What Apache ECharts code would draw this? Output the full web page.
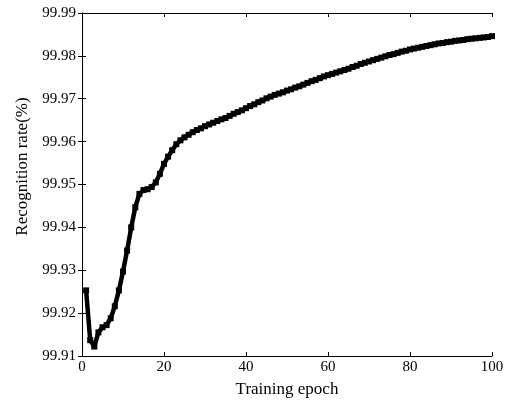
<!DOCTYPE html>
<html>
<head>
<meta charset="utf-8">
<script src="https://cdn.jsdelivr.net/npm/echarts@6/dist/echarts.min.js"></script>
<style>
  html, body { margin: 0; padding: 0; background: #fff; }
  #chart { width: 512px; height: 403px; }
</style>
</head>
<body>
<div id="chart"></div>
<script>
// epochs 1..100 and recognition rate
var epochs = [];
for (var i = 1; i <= 100; i++) epochs.push(i);

var rate = [
  99.9253, 99.9137, 99.9122, 99.9155, 99.9167, 99.9172, 99.9188, 99.9216, 99.9253, 99.9297,
  99.9346, 99.9400, 99.9447, 99.9478, 99.9487, 99.9489, 99.9494, 99.9505, 99.9525, 99.9548,
  99.9565, 99.9580, 99.9594, 99.9603, 99.9610, 99.9616, 99.9622, 99.9627, 99.9631, 99.9636,
  99.9640, 99.9644, 99.9648, 99.9652, 99.9655, 99.9660, 99.9665, 99.9669, 99.9673, 99.9678,
  99.9683, 99.9687, 99.9692, 99.9696, 99.9701, 99.9705, 99.9709, 99.9712, 99.9715, 99.9719,
  99.9722, 99.9726, 99.9729, 99.9733, 99.9737, 99.9741, 99.9744, 99.9748, 99.9752, 99.9755,
  99.9758, 99.9761, 99.9764, 99.9767, 99.9770, 99.9774, 99.9777, 99.9781, 99.9784, 99.9787,
  99.9790, 99.9793, 99.9796, 99.9799, 99.9802, 99.9804, 99.9807, 99.9810, 99.9812, 99.9815,
  99.9817, 99.9819, 99.9821, 99.9823, 99.9825, 99.9827, 99.9829, 99.9830, 99.9832, 99.9833,
  99.9835, 99.9836, 99.9837, 99.9839, 99.9840, 99.9841, 99.9842, 99.9843, 99.9844, 99.9846
];

var xTitle = 'Training epoch';
var yTitle = 'Recognition rate(%)';

var font = 'Liberation Serif, Times New Roman, serif';
var chart = echarts.init(document.getElementById('chart'));

var axisLine = { show: true, lineStyle: { color: '#000', width: 1 } };
var tick = { show: true, inside: true, length: 4, lineStyle: { color: '#000' } };

var points = epochs.map(function (e, i) { return [e, rate[i]]; });

chart.setOption({
  animation: false,
  backgroundColor: '#fff',
  grid: { left: 82, right: 20, top: 13, bottom: 45 },
  xAxis: [{
    type: 'value', min: 0, max: 100, interval: 20,
    name: xTitle, nameLocation: 'middle', nameGap: 25,
    nameTextStyle: { fontFamily: font, fontSize: 17, color: '#000' },
    axisLine: axisLine, axisTick: tick, splitLine: { show: false },
    axisLabel: { fontFamily: font, fontSize: 15, color: '#000', margin: 4 }
  }, {
    type: 'value', min: 0, max: 100, interval: 20, position: 'top',
    axisLine: axisLine, axisTick: tick, splitLine: { show: false },
    axisLabel: { show: false }
  }],
  yAxis: [{
    type: 'value', min: 99.91, max: 99.99, interval: 0.01,
    name: yTitle, nameLocation: 'middle', nameGap: 49, nameRotate: 90,
    nameTextStyle: { fontFamily: font, fontSize: 17, color: '#000', padding: [0, 0, 0, 36] },
    axisLine: axisLine, axisTick: tick, splitLine: { show: false },
    axisLabel: {
      fontFamily: font, fontSize: 15, color: '#000', margin: 6,
      formatter: function (v) { return v.toFixed(2); }
    }
  }, {
    type: 'value', min: 99.91, max: 99.99, interval: 0.01, position: 'right',
    axisLine: axisLine, axisTick: tick, splitLine: { show: false },
    axisLabel: { show: false }
  }],
  series: [{
    type: 'line',
    data: points,
    symbol: 'rect',
    symbolSize: 6,
    showAllSymbol: true,
    lineStyle: { color: '#000', width: 4.5 },
    itemStyle: { color: '#000' }
  }]
});
</script>
</body>
</html>
